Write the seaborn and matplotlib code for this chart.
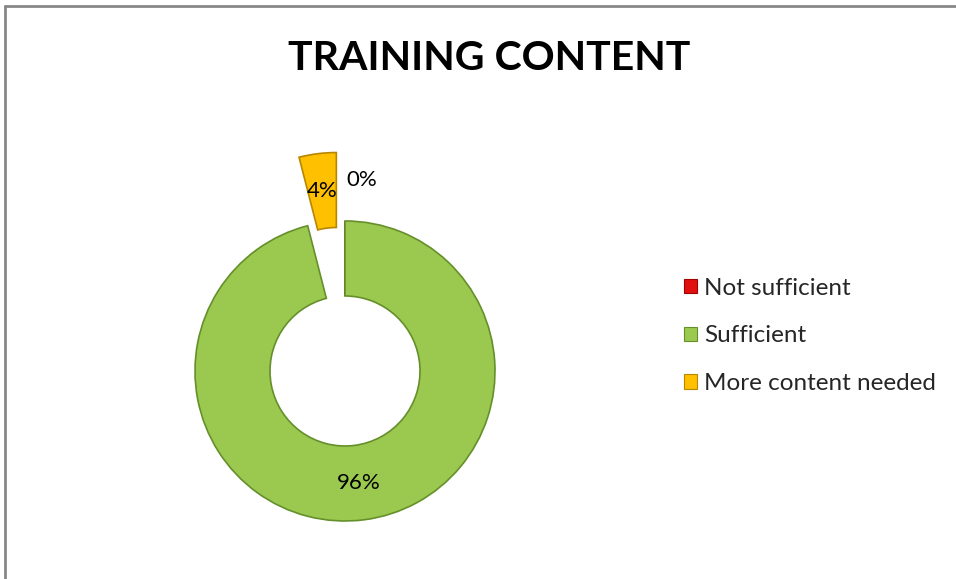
import numpy as np
import matplotlib
matplotlib.use("Agg")
import matplotlib.pyplot as plt
from matplotlib.lines import Line2D
from matplotlib.patches import Patch
import seaborn as sns

# data
categories = ["Not sufficient", "Sufficient", "More content needed"]
shares = [0, 96, 4]
pct_labels = ["0%", "96%", "4%"]
colors = ["#e01010", "#9bc94f", "#ffc000"]
edges = ["#a00000", "#658f2a", "#b88600"]

sns.set_theme(style="white")
plt.rcParams["font.family"] = ["Lato", "DejaVu Sans"]

fig = plt.figure(figsize=(9.56, 5.79), dpi=100)
W, H = 956, 579
scale = 150.0  # pixels per unit radius
cx, cy = 345, 208  # donut centre in pixels (from bottom)
ax = fig.add_axes([0, 0, 1, 1])

wedges, texts, autotexts = ax.pie(
    shares, colors=colors, startangle=90, counterclock=False,
    explode=[0, 0, 0.46], autopct=lambda p: "", pctdistance=0.75,
    wedgeprops=dict(width=0.5, linewidth=1.2),
)
for w, e in zip(wedges, edges):
    w.set_edgecolor(e)

for t, lab in zip(autotexts, pct_labels):
    t.set_text(lab)
    t.set_fontsize(16)
    t.set_color("black")
# 0% slice label sits outside, next to the exploded wedge
autotexts[0].set_position((0.113, 1.27))

ax.set_aspect("auto")
ax.set_xlim(-cx / scale, (W - cx) / scale)
ax.set_ylim(-cy / scale, (H - cy) / scale)
ax.axis("off")

fig.text(489 / W, 1 - 59 / H, "TRAINING CONTENT", ha="center", va="center",
         fontsize=29.5, fontweight="bold", color="black")

handles = [Patch(facecolor=c, edgecolor=e, linewidth=0.8) for c, e in zip(colors, edges)]
fig.legend(handles, categories, loc="upper left", bbox_to_anchor=(674 / W, 1 - 268 / H),
           frameon=False, fontsize=17.5, handlelength=0.55, handleheight=0.55,
           handletextpad=0.3, labelspacing=1.1, borderaxespad=0)

# chart frame (left and top edges visible)
fig.add_artist(Line2D([4.5 / W, 4.5 / W], [0, 1 - 6 / H], color="#878787", lw=2,
                      transform=fig.transFigure))
fig.add_artist(Line2D([4.5 / W, 1], [1 - 6 / H, 1 - 6 / H], color="#878787", lw=2,
                      transform=fig.transFigure))

fig.savefig("out.png", dpi=100)
